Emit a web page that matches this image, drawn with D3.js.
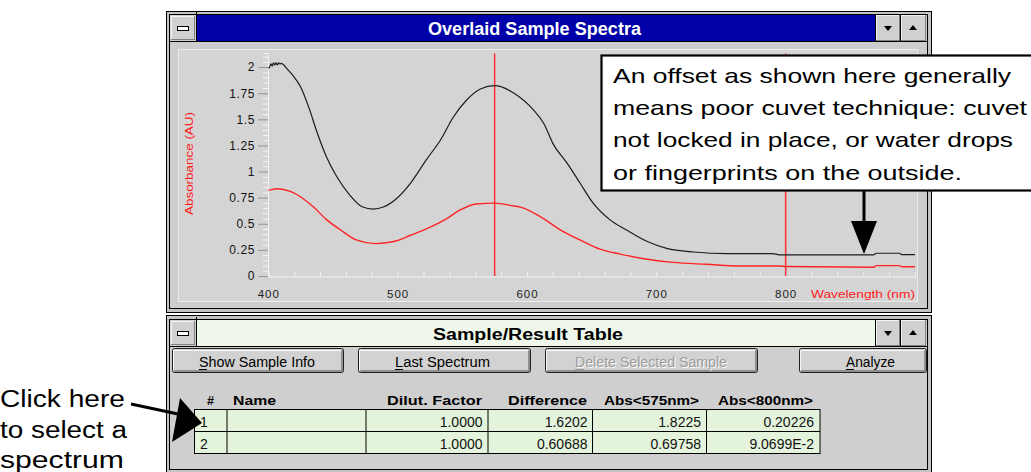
<!DOCTYPE html>
<html><head><meta charset="utf-8">
<script src="https://cdn.jsdelivr.net/npm/d3@7"></script>
<style>
body{margin:0;background:#fff;}
svg{display:block;font-family:"Liberation Sans",Arial,Helvetica,sans-serif;}
</style>
</head><body>
<svg id="c" width="1031" height="472"></svg>
<script>
// ---------- DATA ----------
const wavelengths1 = [400,401,402,403,404,405,406,407,408,409,410,412,414,419,425,432,437,445,453,463,473,481,489,499,510,522,533,543,553,564,575,590,605,613,620,631,641,651,664,677,693,708,729,755,790,795,868,870,888,890,900];
const absorb1 =      [1.99,2.00,2.03,2.01,2.04,2.02,2.04,2.02,2.04,2.03,2.035,2.02,1.99,1.92,1.81,1.59,1.40,1.14,0.95,0.775,0.66,0.64,0.66,0.74,0.89,1.11,1.30,1.52,1.68,1.79,1.822,1.75,1.59,1.46,1.27,1.08,0.89,0.70,0.54,0.44,0.33,0.265,0.23,0.215,0.215,0.203,0.203,0.218,0.218,0.205,0.205];
const wavelengths2 = [400,407,417,427,435,445,456,468,483,497,510,523,538,548,561,575,590,595,610,626,641,657,672,693,713,739,765,795,800,868,870,888,890,900];
const absorb2 =      [0.82,0.835,0.81,0.74,0.66,0.54,0.44,0.345,0.31,0.33,0.39,0.455,0.55,0.63,0.69,0.698,0.67,0.66,0.57,0.44,0.345,0.255,0.21,0.16,0.13,0.112,0.096,0.096,0.091,0.084,0.099,0.099,0.088,0.088];
const markerWavelengths = [575, 800];
const yTickValues = [0,0.25,0.5,0.75,1,1.25,1.5,1.75,2];
const yTickLabels = ["0","0.25","0.5","0.75","1","1.25","1.5","1.75","2"];
const xTickValues = [400,500,600,700,800];
const xTickLabels = ["400","500","600","700","800"];
const chartTitle = "Overlaid Sample Spectra";
const tableTitle = "Sample/Result Table";
const yAxisTitle = "Absorbance (AU)";
const xAxisTitle = "Wavelength (nm)";
const buttonLabels = ["Show Sample Info","Last Spectrum","Delete Selected Sample","Analyze"];
const tableColumns = ["#","Name","Dilut. Factor","Difference","Abs<575nm>","Abs<800nm>"];
const sampleIds = ["1","2"];
const sampleNames = ["",""];
const dilutFactors = ["1.0000","1.0000"];
const differences = ["1.6202","0.60688"];
const abs575 = ["1.8225","0.69758"];
const abs800 = ["0.20226","9.0699E-2"];
const calloutLines = ["An offset as shown here generally","means poor cuvet technique: cuvet","not locked in place, or water drops","or fingerprints on the outside."];
const clickLines = ["Click here","to select a","spectrum"];

// ---------- HELPERS ----------
const svg = d3.select("#c");
function R(g,x,y,w,h,fill,stroke,sw){const r=g.append("rect").attr("x",x).attr("y",y).attr("width",w).attr("height",h).attr("fill",fill||"none");if(stroke)r.attr("stroke",stroke).attr("stroke-width",sw||1);return r;}
function L(g,x1,y1,x2,y2,stroke,sw){return g.append("line").attr("x1",x1).attr("y1",y1).attr("x2",x2).attr("y2",y2).attr("stroke",stroke||"#000").attr("stroke-width",sw||1);}
function T(g,str,x,y,o={}){const t=g.append("text").attr("x",x).attr("y",y).text(str)
  .attr("font-size",o.size||13).attr("fill",o.fill||"#000").attr("font-weight",o.weight||"normal")
  .attr("text-anchor",o.anchor||"start");
  if(o.len)t.attr("textLength",o.len).attr("lengthAdjust","spacingAndGlyphs");
  if(o.ls)t.attr("letter-spacing",o.ls);
  return t;}
function raised(g,x,y,w,h){R(g,x,y,w,h,"#d0d0d0");L(g,x,y+0.5,x+w,y+0.5,"#f4f4f4");L(g,x+0.5,y,x+0.5,y+h,"#f4f4f4");L(g,x,y+h-0.5,x+w,y+h-0.5,"#808080");L(g,x+w-0.5,y,x+w-0.5,y+h,"#808080");}
function sysBox(g,x,y){R(g,x,y,26,26,"#cfcfcf");raised(g,x+1,y+1,24,24);R(g,x+7.5,y+11.5,11,4,"#fff","#000",1);L(g,x+26.5,y-3,x+26.5,y+26,"#000");}
function minMax(g,x,y){
  raised(g,x,y,24,26); g.append("path").attr("d",`M${x+8},${y+11}h8l-4,5z`).attr("fill","#000");
  raised(g,x+25,y,25,26); g.append("path").attr("d",`M${x+33},${y+15}h8l-4,-5z`).attr("fill","#000");
  L(g,x-0.5,y,x-0.5,y+26,"#000");L(g,x+24.5,y,x+24.5,y+26,"#000");
}

// ---------- TOP WINDOW ----------
const win = svg.append("g");
R(win,166.5,11.5,765,301,"#c4c4c4","#000",1);
R(win,169.5,14.5,758,294,"#cdcdcd","#000",1);
R(win,196,15,680,26,"#0000a8");
L(win,170,41.5,927,41.5,"#000");
sysBox(win,170,15);
minMax(win,876,15);
T(win,chartTitle,428,35,{size:18,weight:"bold",fill:"#fff",len:213});
R(win,178.5,49.5,739,252,"#d4d4d4","#ececec",1);

// ---------- CHART ----------
const x = d3.scaleLinear().domain([400,900]).range([268.3,915]);
const y = d3.scaleLinear().domain([0,2.135]).range([276,53]);
const plot = svg.append("g");

const yMinor = d3.range(0,2.13,0.05).map(v=>+v.toFixed(2)).filter(v=>!yTickValues.includes(v));
plot.append("g").attr("transform","translate(268,0)")
  .call(d3.axisLeft(y).tickValues(yMinor).tickSize(5).tickFormat(""))
  .call(g=>{g.select(".domain").attr("stroke","#f2f2f2");g.selectAll(".tick line").attr("stroke","#f4f6f4");});
plot.append("g").attr("transform","translate(268,0)")
  .call(d3.axisLeft(y).tickValues(yTickValues).tickSize(10).tickPadding(3).tickFormat((d,i)=>yTickLabels[i]))
  .call(g=>{g.select(".domain").remove();
    g.selectAll(".tick line").attr("stroke","#8f9a8f");
    g.selectAll(".tick text").attr("font-size",12).attr("fill","#111").attr("letter-spacing",0.6)
      .attr("font-family","'Liberation Sans',Arial,sans-serif");});
plot.append("g").attr("transform","translate(0,276.5)")
  .call(d3.axisBottom(x).tickValues(d3.range(400,901,20)).tickSize(-4).tickFormat(""))
  .call(g=>{g.select(".domain").attr("stroke","#f4f6f4");g.selectAll(".tick line").attr("stroke","#f4f6f4");});
plot.append("g").attr("transform","translate(0,276.5)")
  .call(d3.axisBottom(x).tickValues(xTickValues).tickSize(0).tickFormat((d,i)=>xTickLabels[i]))
  .call(g=>{g.select(".domain").remove();
    g.selectAll(".tick text").attr("y",21).attr("dy",null).attr("font-size",11.5).attr("fill","#222")
      .attr("letter-spacing",1).attr("font-family","'Liberation Sans',Arial,sans-serif");});

T(plot,xAxisTitle,811,297.5,{size:11.5,fill:"#ff1a1a",len:104});
plot.append("text").attr("transform","translate(193,215) rotate(-90)")
  .text(yAxisTitle).attr("font-size",11.5).attr("fill","#ff1a1a")
  .attr("textLength",103).attr("lengthAdjust","spacingAndGlyphs");

plot.selectAll(".marker").data(markerWavelengths).enter().append("line")
  .attr("x1",d=>x(d)).attr("x2",d=>x(d)).attr("y1",y(2.13)).attr("y2",y(0))
  .attr("stroke","#ff3030").attr("stroke-width",1.5);

const s1 = wavelengths1.map((w,i)=>[w,absorb1[i]]);
const s2 = wavelengths2.map((w,i)=>[w,absorb2[i]]);
const lineGen = d3.line().x(d=>x(d[0])).y(d=>y(d[1])).curve(d3.curveMonotoneX);
plot.append("path").datum(s2).attr("d",lineGen).attr("fill","none").attr("stroke","#ff2424").attr("stroke-width",1.4);
plot.append("path").datum(s1).attr("d",lineGen).attr("fill","none").attr("stroke","#1c1c1c").attr("stroke-width",1.2);

// ---------- BOTTOM WINDOW ----------
const bw = svg.append("g");
R(bw,166.5,315.5,765,170,"#c4c4c4","#000",1);
R(bw,169.5,319.5,758,150,"#cfcfcf","#000",1);
R(bw,196,320,679,26,"#eef7ea");
L(bw,170,346.5,927,346.5,"#000");
sysBox(bw,170,320);
minMax(bw,876,320);
T(bw,tableTitle,433,340,{size:16,weight:"bold",len:190});

const btnX = [[172,344],[358,531],[545,758],[799,927]];
const btnText = [[199,116],[395,95],[575,152],[846,49]];
buttonLabels.forEach((lab,i)=>{
  const [x0,x1]=btnX[i];
  const g=bw.append("g");
  R(g,x0+0.5,348.5,x1-x0-1,24,"#d2d2d2","#202020",1).attr("rx",2);
  L(g,x0+2,350.5,x1-2,350.5,"#f6f6f6");L(g,x0+1.5,350,x0+1.5,371,"#f6f6f6");
  L(g,x0+2,371,x1-2,371,"#7a7a7a",1.5);L(g,x1-2,350,x1-2,371.5,"#7a7a7a",1.5);
  const [tx,tl]=btnText[i];
  if(i===2){
    T(g,lab,tx+1,368,{size:14,fill:"#fafafa",len:tl});
    T(g,lab,tx,367,{size:14,fill:"#9c9c9c",len:tl});
    L(g,tx,369.5,tx+9,369.5,"#9c9c9c");
  } else {
    T(g,lab,tx,367,{size:14,len:tl});
    L(g,tx,369.5,tx+8,369.5,"#000");
  }
});

const colEdges = [194.5,227,366,488,592.5,706.5,820];
const headerRight = [214,276,482,587,699,813];
const headerLen = [7,43,95,79,95,95];
tableColumns.forEach((c,i)=>{
  T(bw,c,headerRight[i]-headerLen[i],405,{size:13.5,weight:"bold",len:headerLen[i]});
});
const rowY = [409.5,431.5];
const cellRight = [null,null,482.5,587.5,701,814];
const rowsData = sampleIds.map((id,i)=>[id,sampleNames[i],dilutFactors[i],differences[i],abs575[i],abs800[i]]);
R(bw,194.5,409.5,625.5,44,"#e4f3dc","#000",1);
L(bw,194.5,431.5,820,431.5,"#000");
colEdges.slice(1,-1).forEach(cx=>L(bw,cx,409.5,cx,453.5,"#000"));
rowsData.forEach((row,r)=>{
  const base = rowY[r]+17.5;
  row.forEach((v,ci)=>{
    if(!v) return;
    if(ci===0) T(bw,v,200,base,{size:14,fill:"#111"});
    else T(bw,v,cellRight[ci],base,{size:14,anchor:"end",fill:"#111"});
  });
});
L(bw,170,469.5,927,469.5,"#000");

// ---------- ANNOTATIONS ----------
const ann = svg.append("g");
R(ann,601.5,55.5,440,135,"#fff","#000",2.2);
const calloutBase=[83,115,147,180], calloutLen=[398,414,400,349];
calloutLines.forEach((s,i)=>T(ann,s,613,calloutBase[i],{size:21,fill:"#000",len:calloutLen[i]}));
L(ann,864,190,864,225,"#000",3);
ann.append("path").attr("d","M851,221L877,221L864,254Z").attr("fill","#000");

const clickBase=[406.5,438,468], clickLen=[125,127,124];
clickLines.forEach((s,i)=>T(ann,s,0,clickBase[i],{size:23,fill:"#000",len:clickLen[i]}));
L(ann,131,404,178,414,"#000",3);
ann.append("path").attr("d","M202,423L172,442L180,398Z").attr("fill","#000");
</script>
</body></html>
